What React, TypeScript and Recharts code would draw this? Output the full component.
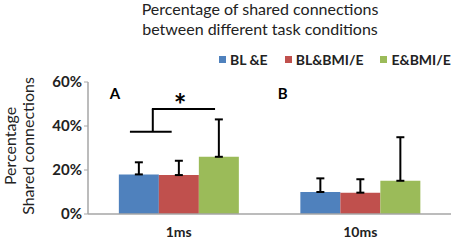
import React from 'react'
import {
  BarChart, Bar, XAxis, YAxis, ErrorBar, ReferenceLine, ReferenceDot
} from 'recharts'

const categories = ['1ms', '10ms']
const blBe = [18, 10]
const blBe_err = [5.5, 6.2]
const blBmi = [17.7, 9.7]
const blBmi_err = [6.5, 6.1]
const eBmi = [26, 15.1]
const eBmi_err = [17, 19.8]
const yTicks = [0, 20, 40, 60]

const seriesNames = ['BL &E', 'BL&BMI/E', 'E&BMI/E']
const colors = ['#4f81bd', '#c0504d', '#9bbb59']

// position of each category on a 0..2 numeric axis used for annotations
const data = categories.map((c, i) => ({
  cat: c,
  pos: i + 0.5,
  a: blBe[i],
  aErr: [0, blBe_err[i]],
  b: blBmi[i],
  bErr: [0, blBmi_err[i]],
  c: eBmi[i],
  cErr: [0, eBmi_err[i]],
}))

const FONT = 'Lato, "Open Sans", sans-serif'
const axisGray = '#a6a6a6'

const yLabel = () => (
  <text transform="translate(0,146) rotate(-90)" textAnchor="middle" fontFamily={FONT} fontSize={16} fill="#222">
    <tspan x={0} y={16}>Percentage</tspan>
    <tspan x={0} y={34}>Shared connections</tspan>
  </text>
)

export default function App() {
  return (
    <div style={{ position: 'absolute', left: 0, top: 0, width: 454, height: 241, background: '#fff' }}>
      <div style={{ position: 'absolute', left: 110, width: 300, top: -1, textAlign: 'center', fontFamily: FONT, fontSize: 16, lineHeight: '20px', color: '#222' }}>
        Percentage of shared connections<br />between different task conditions
      </div>
      <div style={{ position: 'absolute', left: 219, top: 51, display: 'flex', fontFamily: FONT, fontWeight: 700, fontSize: 14, color: '#222' }}>
        {seriesNames.map((n, i) => (
          <div key={n} style={{ display: 'flex', alignItems: 'center', marginRight: i < 2 ? 17 : 0 }}>
            <span style={{ width: 7, height: 7, background: colors[i], marginRight: 4, display: 'inline-block' }} />
            {n}
          </div>
        ))}
      </div>
      <BarChart width={454} height={241} data={data} margin={{ top: 82, right: 3, left: 0, bottom: 0 }}
        barCategoryGap="17%" barGap={0}>
        <XAxis xAxisId="n" dataKey="pos" type="number" domain={[0, 2]} allowDataOverflow ticks={[0, 1, 2]} height={0}
          axisLine={false} tickLine={{ stroke: axisGray }} tickSize={4} tickFormatter={() => ''} />
        <XAxis dataKey="cat" height={27} axisLine={{ stroke: axisGray, strokeWidth: 1.5 }} tickLine={false}
          tick={{ fontFamily: FONT, fontWeight: 700, fontSize: 14, fill: '#222' }} tickMargin={7} />
        <YAxis width={88} domain={[0, 60]} ticks={yTicks} tickFormatter={(v: number) => `${v}%`}
          axisLine={{ stroke: axisGray, strokeWidth: 1.5 }} tickLine={{ stroke: axisGray }} tickSize={4}
          tick={{ fontFamily: FONT, fontWeight: 700, fontSize: 15, fill: '#222' }} label={yLabel} />
        <Bar dataKey="a" fill={colors[0]} isAnimationActive={false}>
          <ErrorBar dataKey="aErr" direction="y" width={4} stroke="#000" strokeWidth={2} />
        </Bar>
        <Bar dataKey="b" fill={colors[1]} isAnimationActive={false}>
          <ErrorBar dataKey="bErr" direction="y" width={4} stroke="#000" strokeWidth={2} />
        </Bar>
        <Bar dataKey="c" fill={colors[2]} isAnimationActive={false}>
          <ErrorBar dataKey="cErr" direction="y" width={4} stroke="#000" strokeWidth={2} />
        </Bar>
        <ReferenceLine xAxisId="n" segment={[{ x: 0.231, y: 37.4 }, { x: 0.461, y: 37.4 }]} stroke="#000" strokeWidth={2} />
        <ReferenceLine xAxisId="n" segment={[{ x: 0.357, y: 37.4 }, { x: 0.357, y: 47.7 }]} stroke="#000" strokeWidth={2} />
        <ReferenceLine xAxisId="n" segment={[{ x: 0.352, y: 47.7 }, { x: 0.7, y: 47.7 }]} stroke="#000" strokeWidth={2} />
        <ReferenceDot xAxisId="n" x={0.507} y={52} r={0} fill="none" stroke="none"
          label={{ value: '*', position: 'center', fontSize: 30, fontWeight: 700, fontFamily: FONT, fill: '#000', dy: 6 }} />
        <ReferenceDot xAxisId="n" x={0.149} y={54.5} r={0} fill="none" stroke="none"
          label={{ value: 'A', position: 'center', fontSize: 15, fontWeight: 700, fontFamily: FONT, fill: '#000' }} />
        <ReferenceDot xAxisId="n" x={1.073} y={54.5} r={0} fill="none" stroke="none"
          label={{ value: 'B', position: 'center', fontSize: 15, fontWeight: 700, fontFamily: FONT, fill: '#000' }} />
      </BarChart>
    </div>
  )
}
